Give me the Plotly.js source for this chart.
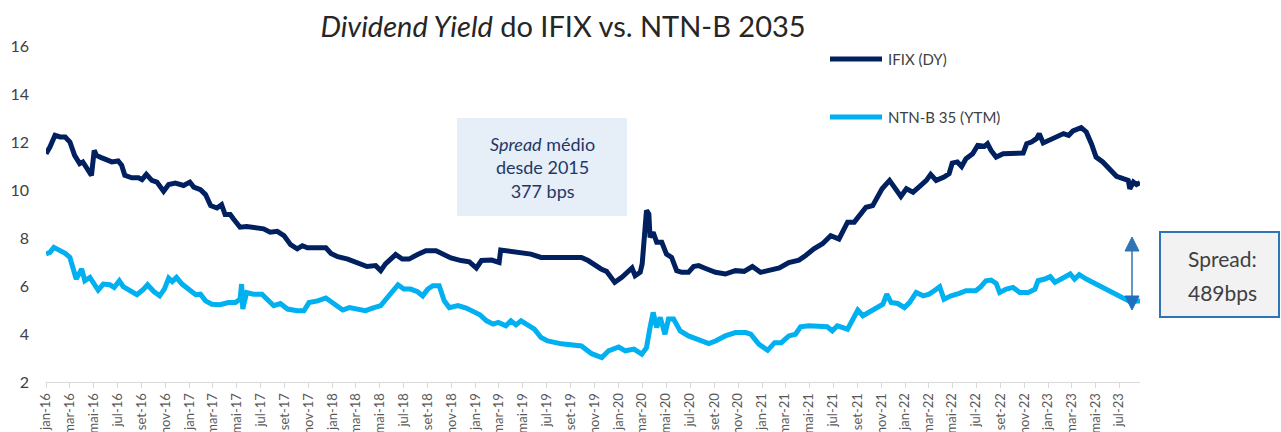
<!DOCTYPE html>
<html>
<head>
<meta charset="utf-8">
<script src="https://cdn.plot.ly/plotly-3.0.1.min.js"></script>
<style>html,body{margin:0;padding:0;background:#fff;}#chart{width:1281px;height:432px;}</style>
</head>
<body>
<div id="chart"></div>
<script>
// ---------------- DATA ----------------
const ifixDates = ["2016-01-01","2016-01-11","2016-01-24","2016-02-06","2016-02-19","2016-03-02","2016-03-14","2016-03-27","2016-04-04","2016-04-13","2016-04-26","2016-05-03","2016-05-09","2016-05-21","2016-06-04","2016-06-17","2016-07-03","2016-07-12","2016-07-20","2016-08-07","2016-08-24","2016-09-02","2016-09-13","2016-09-27","2016-10-10","2016-10-27","2016-11-09","2016-11-26","2016-12-17","2017-01-02","2017-01-12","2017-01-29","2017-02-11","2017-02-24","2017-03-12","2017-03-24","2017-04-02","2017-04-15","2017-04-23","2017-05-06","2017-05-10","2017-05-27","2017-06-22","2017-07-09","2017-07-26","2017-08-13","2017-08-30","2017-09-16","2017-10-03","2017-10-16","2017-10-29","2017-11-28","2017-12-15","2017-12-28","2018-01-14","2018-02-09","2018-03-05","2018-03-30","2018-04-21","2018-05-04","2018-05-16","2018-05-29","2018-06-11","2018-06-28","2018-07-15","2018-08-06","2018-08-27","2018-09-22","2018-10-09","2018-10-30","2018-11-25","2018-12-16","2019-01-03","2019-01-16","2019-02-11","2019-03-02","2019-03-06","2019-04-01","2019-04-27","2019-05-22","2019-06-17","2019-07-12","2019-08-16","2019-09-11","2019-09-28","2019-10-15","2019-11-02","2019-11-10","2019-11-17","2019-12-01","2019-12-22","2020-01-09","2020-01-26","2020-02-04","2020-02-12","2020-02-25","2020-03-01","2020-03-06","2020-03-12","2020-03-18","2020-03-21","2020-03-29","2020-04-07","2020-04-20","2020-05-02","2020-05-15","2020-05-28","2020-06-10","2020-06-27","2020-07-10","2020-07-23","2020-08-13","2020-09-04","2020-09-29","2020-10-25","2020-11-16","2020-12-07","2020-12-28","2021-01-19","2021-02-14","2021-03-10","2021-04-05","2021-04-22","2021-05-13","2021-06-04","2021-06-25","2021-07-16","2021-08-07","2021-08-24","2021-09-06","2021-09-23","2021-10-10","2021-10-18","2021-11-03","2021-11-22","2021-12-05","2021-12-21","2022-01-04","2022-01-21","2022-02-07","2022-02-24","2022-03-07","2022-03-21","2022-04-10","2022-04-23","2022-05-01","2022-05-14","2022-05-25","2022-06-05","2022-06-22","2022-07-05","2022-07-22","2022-07-30","2022-08-08","2022-08-21","2022-09-08","2022-10-03","2022-10-29","2022-11-07","2022-11-19","2022-12-02","2022-12-09","2022-12-19","2023-01-06","2023-01-23","2023-02-09","2023-02-22","2023-03-05","2023-03-26","2023-04-08","2023-04-21","2023-05-03","2023-05-20","2023-06-07","2023-06-24","2023-07-11","2023-07-24","2023-07-28","2023-08-06","2023-08-14","2023-08-23"];
const ifixValues = [11.51,11.79,12.28,12.21,12.21,12.00,11.44,11.10,11.17,10.96,10.61,11.65,11.44,11.35,11.24,11.17,11.21,11.03,10.61,10.51,10.51,10.43,10.65,10.40,10.33,9.95,10.23,10.29,10.19,10.33,10.12,10.01,9.81,9.35,9.25,9.39,8.98,8.98,8.80,8.56,8.45,8.48,8.45,8.38,8.24,8.28,8.10,7.72,7.55,7.68,7.59,7.59,7.59,7.36,7.22,7.12,6.98,6.81,6.85,6.64,6.92,7.12,7.31,7.12,7.12,7.31,7.47,7.47,7.31,7.17,7.06,7.01,6.75,7.06,7.08,6.98,7.50,7.44,7.36,7.33,7.19,7.19,7.17,7.17,7.19,7.06,6.85,6.81,6.71,6.61,6.15,6.36,6.64,6.75,6.43,6.57,6.92,7.89,9.15,9.00,8.03,8.24,7.82,7.82,7.33,7.19,6.64,6.57,6.57,6.81,6.85,6.71,6.57,6.50,6.64,6.61,6.81,6.57,6.64,6.75,6.98,7.08,7.27,7.55,7.76,8.10,7.96,8.66,8.66,8.94,9.28,9.35,9.56,10.05,10.40,10.12,9.73,10.05,9.91,10.15,10.40,10.65,10.40,10.54,10.68,11.12,11.17,10.98,11.30,11.51,11.86,11.82,11.93,11.65,11.37,11.51,11.51,11.54,11.93,12.00,12.14,12.35,11.96,12.10,12.21,12.35,12.28,12.46,12.60,12.42,11.93,11.37,11.17,10.89,10.57,10.47,10.40,10.05,10.33,10.23,10.30];

const ntnbDates = ["2016-01-01","2016-01-11","2016-01-21","2016-02-06","2016-02-19","2016-03-02","2016-03-10","2016-03-18","2016-04-01","2016-04-09","2016-04-22","2016-05-05","2016-05-13","2016-05-26","2016-06-12","2016-06-23","2016-07-06","2016-07-16","2016-08-03","2016-08-20","2016-09-06","2016-09-16","2016-10-02","2016-10-17","2016-10-29","2016-11-09","2016-11-18","2016-11-29","2016-12-13","2016-12-30","2017-01-17","2017-01-29","2017-02-11","2017-02-27","2017-03-20","2017-04-10","2017-04-28","2017-05-10","2017-05-14","2017-05-17","2017-05-27","2017-06-13","2017-07-05","2017-07-18","2017-08-04","2017-08-21","2017-09-08","2017-10-03","2017-10-20","2017-11-02","2017-11-24","2017-12-15","2018-01-06","2018-01-27","2018-02-13","2018-03-05","2018-03-26","2018-04-17","2018-05-04","2018-05-21","2018-06-07","2018-06-17","2018-07-02","2018-07-19","2018-08-06","2018-08-19","2018-09-01","2018-09-14","2018-09-30","2018-10-13","2018-10-26","2018-11-17","2018-12-08","2018-12-29","2019-01-12","2019-01-29","2019-02-15","2019-02-28","2019-03-19","2019-04-01","2019-04-14","2019-04-27","2019-05-14","2019-05-31","2019-06-17","2019-07-04","2019-08-08","2019-09-03","2019-09-28","2019-10-24","2019-11-19","2019-12-06","2020-01-01","2020-01-18","2020-02-09","2020-02-29","2020-03-12","2020-03-21","2020-03-29","2020-04-07","2020-04-16","2020-04-28","2020-05-07","2020-05-20","2020-06-06","2020-06-27","2020-07-18","2020-08-18","2020-09-04","2020-09-29","2020-10-25","2020-11-20","2020-12-03","2020-12-24","2021-01-15","2021-02-02","2021-02-19","2021-03-10","2021-03-27","2021-04-09","2021-04-30","2021-05-26","2021-06-16","2021-06-29","2021-07-12","2021-08-07","2021-08-20","2021-09-02","2021-09-15","2021-10-01","2021-10-18","2021-11-05","2021-11-15","2021-11-26","2021-12-13","2021-12-30","2022-01-12","2022-01-29","2022-02-16","2022-03-03","2022-03-16","2022-03-30","2022-04-10","2022-04-28","2022-05-19","2022-06-05","2022-06-30","2022-07-13","2022-07-26","2022-08-08","2022-08-21","2022-08-30","2022-09-16","2022-10-03","2022-10-20","2022-11-11","2022-11-28","2022-12-06","2022-12-23","2023-01-06","2023-01-18","2023-02-01","2023-02-13","2023-02-26","2023-03-09","2023-03-21","2023-04-08","2023-04-25","2023-05-12","2023-06-03","2023-06-24","2023-07-11","2023-07-28","2023-08-23"];
const ntnbValues = [7.34,7.40,7.61,7.50,7.36,7.19,6.64,6.29,6.71,6.22,6.36,6.08,5.83,6.08,6.05,5.94,6.22,5.97,5.83,5.64,5.87,6.05,5.77,5.59,5.87,6.33,6.19,6.36,6.08,5.87,5.64,5.66,5.38,5.24,5.22,5.31,5.31,5.45,6.08,5.04,5.73,5.66,5.66,5.45,5.18,5.27,5.04,4.97,4.97,5.31,5.38,5.50,5.27,5.00,5.10,5.04,4.97,5.10,5.18,5.52,5.87,6.05,5.87,5.87,5.76,5.59,5.87,6.01,6.01,5.38,5.10,5.18,5.08,4.90,4.80,4.55,4.41,4.48,4.34,4.55,4.38,4.55,4.38,4.20,3.85,3.71,3.59,3.55,3.50,3.18,3.02,3.30,3.46,3.30,3.37,3.16,3.43,4.27,4.90,4.27,4.69,3.99,4.62,4.62,4.13,3.92,3.78,3.60,3.71,3.92,4.06,4.06,3.99,3.57,3.32,3.64,3.64,3.92,3.99,4.30,4.34,4.34,4.30,4.13,4.34,4.20,4.55,5.00,4.76,4.90,5.04,5.24,5.66,5.31,5.27,5.10,5.31,5.73,5.59,5.66,5.80,5.97,5.45,5.59,5.69,5.80,5.80,5.97,6.22,6.25,6.11,5.73,5.87,5.94,5.73,5.73,5.87,6.22,6.29,6.39,6.15,6.29,6.43,6.50,6.29,6.47,6.29,6.15,6.01,5.80,5.64,5.50,5.36,5.38];

const seriesNames = ["IFIX (DY)", "NTN-B 35 (YTM)"];
const monthLabels = ["jan","mar","mai","jul","set","nov"];
const tickStartYear = 2016, tickEndYear = 2023, tickEndMonth = 7;
const yTicks = [2,4,6,8,10,12,14,16];
const titleText = "<i>Dividend Yield</i> do IFIX vs. NTN-B 2035";
const boxText = "<i>Spread</i> médio<br>desde 2015<br>377 bps";
const spreadLines = ["Spread:", "489bps"];

// ---------------- TICKS ----------------
const tickVals = [], tickText = [];
for (let y = tickStartYear; y <= tickEndYear; y++) {
  for (let i = 0; i < 6; i++) {
    const m = 1 + i * 2;
    if (y === tickEndYear && m > tickEndMonth) break;
    tickVals.push(y + "-" + String(m).padStart(2, "0") + "-01");
    tickText.push(monthLabels[i] + "-" + String(y).slice(2));
  }
}

// ---------------- LAYOUT HELPERS ----------------
const W = 1281, H = 432;
const M = {l: 46, r: 141, t: 46, b: 50};
const PW = W - M.l - M.r, PH = H - M.t - M.b;
const px = x => (x - M.l) / PW;              // pixel -> paper x
const pyc = y => (H - M.b - y) / PH;         // pixel -> paper y

const navy = "#002060", cyan = "#00b0f0", arrowBlue = "#2e75b6";
const FONT = "Lato, 'Open Sans', sans-serif";

const traces = [
  {x: ifixDates, y: ifixValues, name: seriesNames[0], type: "scatter", mode: "lines",
   line: {color: navy, width: 5}, showlegend: false, hoverinfo: "x+y"},
  {x: ntnbDates, y: ntnbValues, name: seriesNames[1], type: "scatter", mode: "lines",
   line: {color: cyan, width: 5}, showlegend: false, hoverinfo: "x+y"}
];

const shapes = [
  // legend samples
  {type: "line", xref: "paper", yref: "paper", x0: px(830), x1: px(882), y0: pyc(59), y1: pyc(59),
   line: {color: navy, width: 5}},
  {type: "line", xref: "paper", yref: "paper", x0: px(830), x1: px(882), y0: pyc(117), y1: pyc(117),
   line: {color: cyan, width: 5}},
  // average spread box
  {type: "rect", xref: "paper", yref: "paper", x0: px(457), x1: px(627), y0: pyc(216), y1: pyc(118),
   fillcolor: "#e6eef8", line: {width: 0}, layer: "below"},
  // spread box on the right
  {type: "rect", xref: "paper", yref: "paper", x0: px(1160), x1: px(1279), y0: pyc(317), y1: pyc(232),
   fillcolor: "#f2f2f2", line: {color: arrowBlue, width: 2}},
  // arrow shaft
  {type: "line", xref: "paper", yref: "paper", x0: px(1132), x1: px(1132), y0: pyc(247), y1: pyc(298),
   line: {color: arrowBlue, width: 1.5}},
  // arrow heads
  {type: "path", xref: "paper", yref: "paper",
   path: `M ${px(1125)} ${pyc(251)} L ${px(1132)} ${pyc(237)} L ${px(1139)} ${pyc(251)} Z`,
   fillcolor: arrowBlue, line: {color: arrowBlue, width: 1}},
  {type: "path", xref: "paper", yref: "paper",
   path: `M ${px(1125)} ${pyc(296)} L ${px(1132)} ${pyc(310)} L ${px(1139)} ${pyc(296)} Z`,
   fillcolor: "#1f6fbf", line: {color: "#1f6fbf", width: 1}}
];

const annotations = [
  {xref: "paper", yref: "paper", x: px(886), y: pyc(59), xanchor: "left", yanchor: "middle",
   text: seriesNames[0], showarrow: false, font: {family: FONT, size: 15, color: "#404040"}},
  {xref: "paper", yref: "paper", x: px(886), y: pyc(117), xanchor: "left", yanchor: "middle",
   text: seriesNames[1], showarrow: false, font: {family: FONT, size: 15, color: "#404040"}},
  {xref: "paper", yref: "paper", x: px(542), y: pyc(167), xanchor: "center", yanchor: "middle",
   text: boxText, showarrow: false, align: "center",
   font: {family: FONT, size: 18, color: "#1f3864"}},
  {xref: "paper", yref: "paper", x: px(1222), y: pyc(258), xanchor: "center", yanchor: "middle",
   text: spreadLines[0], showarrow: false, font: {family: FONT, size: 21, color: "#404040"}},
  {xref: "paper", yref: "paper", x: px(1222), y: pyc(292), xanchor: "center", yanchor: "middle",
   text: spreadLines[1], showarrow: false, font: {family: FONT, size: 21, color: "#404040"}}
];

const layout = {
  width: W, height: H,
  margin: M,
  paper_bgcolor: "#ffffff", plot_bgcolor: "#ffffff",
  font: {family: FONT, color: "#595959"},
  title: {text: titleText, x: 563 / W, xanchor: "center", y: 1 - 27 / H, yanchor: "middle",
          font: {family: FONT, size: 29, color: "#262626"}},
  showlegend: false,
  xaxis: {
    type: "date",
    range: ["2016-01-01", "2023-08-23"],
    tickmode: "array", tickvals: tickVals, ticktext: tickText,
    tickangle: -90, tickfont: {family: FONT, size: 13, color: "#595959"},
    showgrid: false, zeroline: false,
    showline: true, linecolor: "#d9d9d9", linewidth: 1,
    ticks: "outside", ticklen: 5, tickcolor: "#d9d9d9"
  },
  yaxis: {
    range: [2, 16], tickmode: "array", tickvals: yTicks,
    tickfont: {family: FONT, size: 16, color: "#404040"},
    showgrid: false, zeroline: false, showline: false,
    ticks: "", ticklabelstandoff: 16
  },
  shapes: shapes,
  annotations: annotations
};

Plotly.newPlot("chart", traces, layout, {displayModeBar: false, staticPlot: true});
</script>
</body>
</html>
